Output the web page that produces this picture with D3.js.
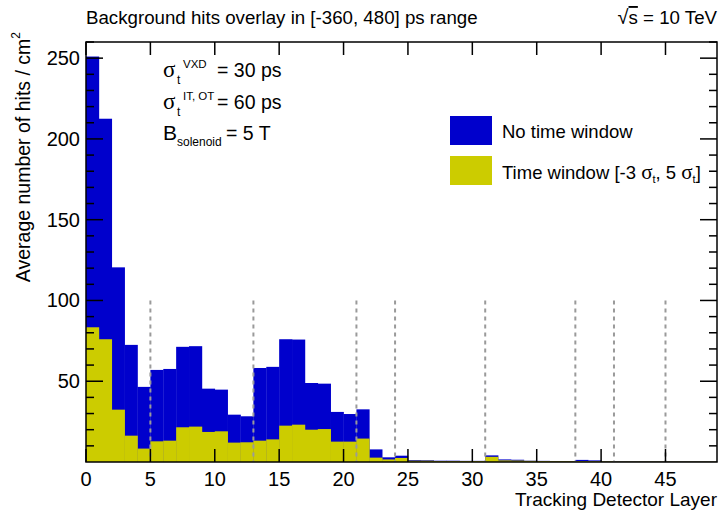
<!DOCTYPE html>
<html>
<head>
<meta charset="utf-8">
<script src="https://cdn.jsdelivr.net/npm/d3@7"></script>
<style>
  html, body { margin: 0; padding: 0; background: #fff; }
  text { font-family: "Liberation Sans", Arial, Helvetica, sans-serif; fill: #000; }
</style>
</head>
<body>
<svg id="chart" width="722" height="513"></svg>
<script>
// ---- data ----
const layers = d3.range(0, 49); // bin lower edges, width 1
const noTimeWindow = [251, 212.5, 120.5, 72.5, 46.5, 57, 57.6, 71.3, 71.7, 45.4, 44.8, 29.3, 28.3, 58.2, 58.9, 76, 75.8, 48.9, 48.5, 31, 29.7, 32.6, 7.8, 2.9, 3.9,
  1.2, 1.1, 0.8, 0.8, 0.7, 0.7, 4.1, 1.6, 1.4, 0.8, 0.7, 0.6, 0.6, 1.3, 1.0, 0.5, 0.4, 0.4, 0.4, 0.4, 0.4, 0.4, 0.4, 0.4];
const timeWindow = [83.4, 76, 32.4, 16.3, 8.3, 12.8, 13.2, 21.5, 21.9, 18.6, 19, 12, 12.2, 13.2, 14, 22.5, 23.1, 20, 20.4, 12.6, 12.6, 14.5, 2.7, 1.6, 2.5,
  0.8, 0.8, 0.6, 0.6, 0.6, 0.6, 3.2, 1.0, 0.9, 0.7, 0.6, 0.5, 0.5, 0.6, 0.5, 0.4, 0.3, 0.3, 0.3, 0.3, 0.3, 0.3, 0.3, 0.3];
const xTicks = [0, 5, 10, 15, 20, 25, 30, 35, 40, 45];
const yTicks = [50, 100, 150, 200, 250];
const yMinorTicks = d3.range(10, 261, 10);
const layerBoundaries = [5, 13, 21, 24, 31, 38, 41, 45];
const seriesNames = ["No time window", "Time window"];
const colors = ["#0000cc", "#cccc00"];

// ---- layout ----
const svg = d3.select("#chart");
const L = 86, R = 717, T = 42, B = 462;
const x = d3.scaleLinear().domain([0, 49]).range([L, R]);
const y = d3.scaleLinear().domain([0, 260]).range([B, T]);

// bars
const g = svg.append("g");
[noTimeWindow, timeWindow].forEach((vals, si) => {
  g.selectAll(null).data(layers).enter().append("rect")
    .attr("x", d => x(d))
    .attr("width", d => x(d + 1) - x(d) + 0.3)
    .attr("y", d => y(vals[d]))
    .attr("height", d => y(0) - y(vals[d]))
    .attr("fill", colors[si]);
});

// dashed layer boundaries
svg.append("g").selectAll("line").data(layerBoundaries).enter().append("line")
  .attr("x1", d => x(d)).attr("x2", d => x(d))
  .attr("y1", y(100)).attr("y2", y(0))
  .attr("stroke", "#9a9a9a").attr("stroke-width", 2)
  .attr("stroke-dasharray", "4,4");

// frame
svg.append("rect").attr("x", L).attr("y", T).attr("width", R - L).attr("height", B - T)
  .attr("fill", "none").attr("stroke", "#000").attr("stroke-width", 1.5);

// axes
const ax = svg.append("g").attr("stroke", "#000").attr("stroke-width", 1.5);
xTicks.forEach(t => {
  ax.append("line").attr("x1", x(t)).attr("x2", x(t)).attr("y1", B).attr("y2", B - 13);
  ax.append("line").attr("x1", x(t)).attr("x2", x(t)).attr("y1", T).attr("y2", T + 13);
});
yMinorTicks.forEach(t => {
  const len = (t % 50 === 0) ? 17 : 8;
  ax.append("line").attr("x1", L).attr("x2", L + len).attr("y1", y(t)).attr("y2", y(t));
  ax.append("line").attr("x1", R).attr("x2", R - len).attr("y1", y(t)).attr("y2", y(t));
});

svg.append("g").selectAll("text").data(xTicks).enter().append("text")
  .attr("x", d => x(d)).attr("y", B + 24)
  .attr("text-anchor", "middle").attr("font-size", 20)
  .text(d => d);
svg.append("g").selectAll("text").data(yTicks).enter().append("text")
  .attr("x", L - 6).attr("y", d => y(d) + 7)
  .attr("text-anchor", "end").attr("font-size", 20)
  .text(d => d);

// axis titles
svg.append("text").attr("x", R).attr("y", 506).attr("text-anchor", "end")
  .attr("font-size", 19).text("Tracking Detector Layer");
const yt = svg.append("text").attr("transform", "translate(30,32) rotate(-90)")
  .attr("text-anchor", "end").attr("font-size", 19.5);
yt.append("tspan").text("Average number of hits / cm");
yt.append("tspan").attr("font-size", 12).attr("dy", -10).text("2");

// title
svg.append("text").attr("x", L).attr("y", 24).attr("font-size", 18.7)
  .text("Background hits overlay in [-360, 480] ps range");
const rs = svg.append("text").attr("x", R).attr("y", 24).attr("text-anchor", "end").attr("font-size", 18.7);
rs.append("tspan").attr("font-size", 20).text("√");
rs.append("tspan").attr("text-decoration", "overline").text("s");
rs.append("tspan").text(" = 10 TeV");

// annotations
function sigmaLine(yy, sup, val) {
  const t = svg.append("text").attr("y", yy).attr("font-size", 19.5);
  t.append("tspan").attr("x", 163).attr("font-size", 23).attr("font-family", "Liberation Serif, serif").text("σ");
  t.append("tspan").attr("x", 177).attr("font-size", 12).attr("dy", 7).text("t");
  t.append("tspan").attr("x", 183).attr("font-size", 11.5).attr("dy", -16).text(sup);
  t.append("tspan").attr("x", 217).attr("dy", 9).text("= " + val);
}
sigmaLine(77, "VXD", "30 ps");
sigmaLine(109, "IT, OT", "60 ps");
const bt = svg.append("text").attr("y", 140).attr("font-size", 19.5);
bt.append("tspan").attr("x", 163).attr("font-size", 21).text("B");
bt.append("tspan").attr("x", 177).attr("font-size", 12).attr("dy", 6).text("solenoid");
bt.append("tspan").attr("x", 226).attr("dy", -6).text("= 5 T");

// legend
const lg = svg.append("g");
lg.append("rect").attr("x", 450).attr("y", 116).attr("width", 42).attr("height", 29).attr("fill", colors[0]);
lg.append("rect").attr("x", 450).attr("y", 156).attr("width", 42).attr("height", 29).attr("fill", colors[1]);
lg.append("text").attr("x", 502).attr("y", 138).attr("font-size", 18.5).text(seriesNames[0]);
const l2 = lg.append("text").attr("x", 502).attr("y", 179).attr("font-size", 18.5);
l2.append("tspan").text(seriesNames[1] + " [-3 ");
l2.append("tspan").attr("font-family", "Liberation Serif, serif").attr("font-size", 21).text("σ");
l2.append("tspan").attr("font-size", 11).attr("dy", 4).text("t");
l2.append("tspan").attr("dy", -4).text(", 5 ");
l2.append("tspan").attr("font-family", "Liberation Serif, serif").attr("font-size", 21).text("σ");
l2.append("tspan").attr("font-size", 11).attr("dy", 4).text("t");
l2.append("tspan").attr("dy", -4).text("]");
</script>
</body>
</html>
